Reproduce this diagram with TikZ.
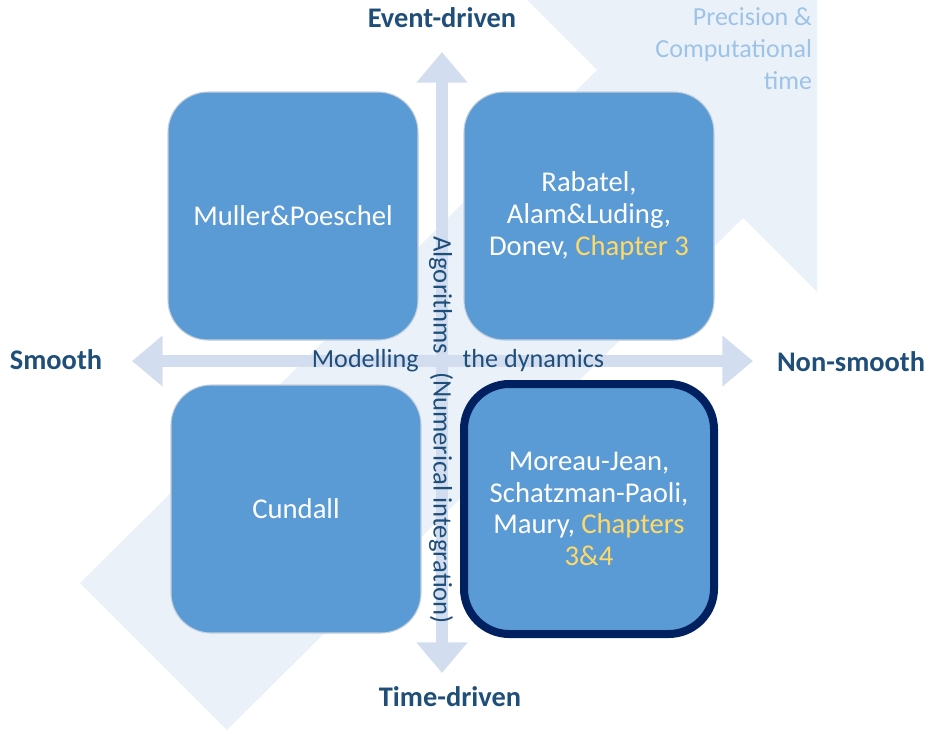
\documentclass[tikz,border=0pt]{standalone}
\usepackage{fontspec}
\setmainfont{Carlito}
\usetikzlibrary{arrows.meta}
\definecolor{QuadPaper}{HTML}{EBF1F9}
\definecolor{QuadAxis}{HTML}{D2DEEF}
\definecolor{QuadFill}{HTML}{5B9BD5}
\definecolor{QuadEdge}{HTML}{C4CFDC}
\definecolor{QuadNavy}{HTML}{002060}
\definecolor{QuadInk}{HTML}{1F4E79}
\definecolor{QuadNote}{HTML}{9DC3E6}
\definecolor{QuadGold}{HTML}{FFD966}
\tikzset{
    quad/diagram/.style={
        x=0.75pt, y=-0.75pt,
        line join=round,
        every node/.style={inner sep=0pt, outer sep=0pt}
    },
    quad/backdrop/.style={fill=QuadPaper, draw=none},
    quad/axis/.style={
        draw=QuadAxis, line width=9pt,
        {Triangle[length=23pt, width=37pt]}-{Triangle[length=23pt, width=37pt]}
    },
    quad/box/.style={
        rectangle, rounded corners=30pt, fill=QuadFill, draw=QuadEdge,
        line width=0.8pt, minimum width=187.5pt, minimum height=186pt,
        align=center, text=white, font=\fontsize{21.5}{23.8}\selectfont
    },
    quad/focus/.style={
        quad/box, draw=QuadNavy, line width=6pt, rounded corners=34pt,
        minimum height=187.5pt
    },
    quad/pole/.style={text=QuadInk, font=\bfseries\fontsize{21.3}{25}\selectfont},
    quad/flow/.style={text=QuadInk, font=\fontsize{19.6}{23}\selectfont},
    quad/note/.style={
        text=QuadNote, align=right, font=\fontsize{19.5}{23.8}\selectfont
    }
}
\begin{document}
\begin{tikzpicture}[quad/diagram]
    \useasboundingbox (0,0) rectangle (932,733);
    \begin{scope}
        \clip (0,0) rectangle (817,733);
        \fill[quad/backdrop] (80,583) -- (597,70) -- (491,-36) -- (847,-33)
            -- (849,324) -- (743,218) -- (227,730) -- cycle;
    \end{scope}
    \node[quad/note, anchor=north east] (precision) at (812,8)
        {Precision \&\\Computational\\time};
    \coordinate (west) at (132,361);
    \coordinate (east) at (753,361);
    \coordinate (north) at (442,52);
    \coordinate (south) at (442,673);
    \draw[quad/axis] (west) -- (east);
    \draw[quad/axis] (north) -- (south);
    \node[quad/box] (muller) at (293,216) {Muller\&Poeschel};
    \node[quad/box] (rabatel) at (589,216)
        {Rabatel,\\Alam\&Luding,\\Donev, \textcolor{QuadGold}{Chapter 3}};
    \node[quad/box] (cundall) at (296,509) {Cundall};
    \node[quad/focus] (moreau) at (589,509)
        {Moreau-Jean,\\Schatzman-Paoli,\\Maury, \textcolor{QuadGold}{Chapters}\\
         \textcolor{QuadGold}{3\&4}};
    \node[quad/flow, anchor=base] (modelling) at (458,367)
        {Modelling\hspace{33pt}the dynamics};
    \node[quad/flow, font=\fontsize{20}{23}\selectfont, rotate=-90]
        (algorithms) at (441,430)
        {Algorithms\hspace{13.5pt}(Numerical integration)};
    \node[quad/pole] (eventdriven) at (442,18) {Event-driven};
    \node[quad/pole] (timedriven) at (450,697) {Time-driven};
    \node[quad/pole] (smooth) at (56,360) {Smooth};
    \node[quad/pole] (nonsmooth) at (851,362) {Non-smooth};
\end{tikzpicture}
\end{document}
